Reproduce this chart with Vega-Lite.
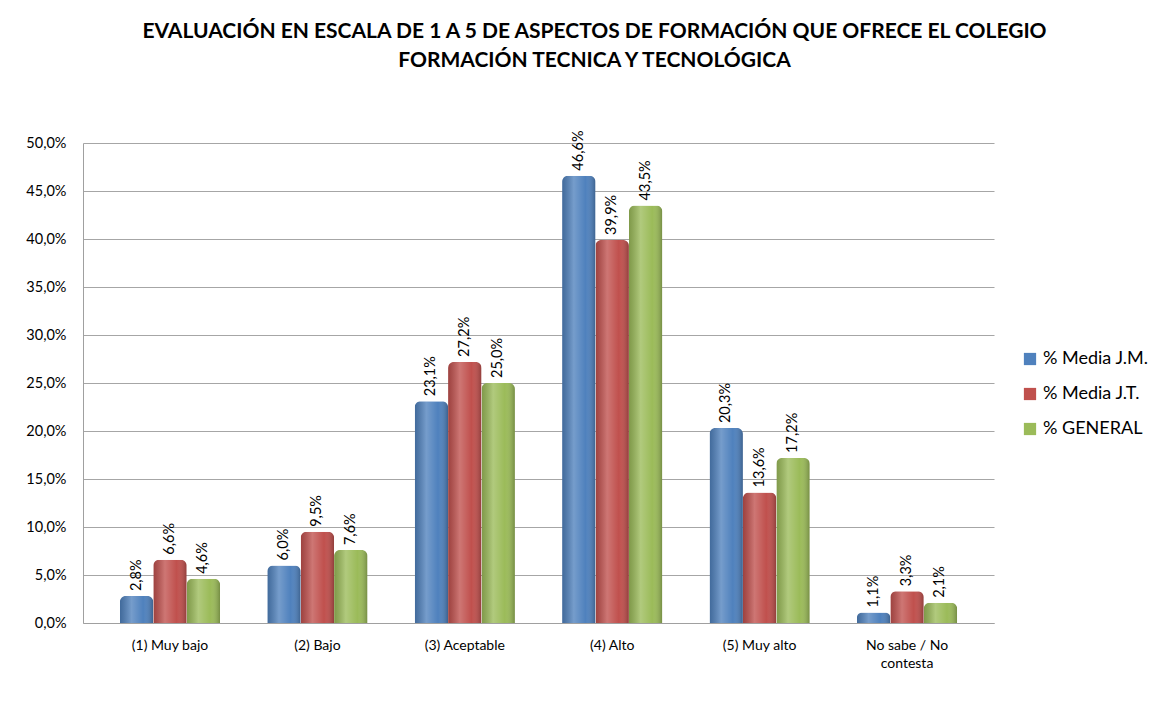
{
  "$schema": "https://vega.github.io/schema/vega-lite/v6.json",
  "width": 911,
  "height": 480,
  "autosize": {"type": "none"},
  "padding": {"left": 83, "top": 143, "right": 182, "bottom": 83},
  "background": "white",
  "config": {
    "locale": {"number": {"decimal": ",", "thousands": ".", "grouping": [3], "currency": ["", " €"]}},
    "font": "Lato",
    "view": {"stroke": null}
  },
  "title": {
    "text": ["EVALUACIÓN EN ESCALA DE  1 A 5 DE ASPECTOS DE FORMACIÓN  QUE OFRECE EL COLEGIO", "FORMACIÓN TECNICA Y TECNOLÓGICA"],
    "font": "Lato",
    "fontSize": 21,
    "fontWeight": "bold",
    "color": "#000000",
    "anchor": "middle",
    "dx": 56,
    "offset": 59,
    "lineHeight": 29
  },
  "data": {
    "values": [
      {"cat": "(1) Muy bajo", "serie": "% Media J.M.", "v": 0.028},
      {"cat": "(1) Muy bajo", "serie": "% Media J.T.", "v": 0.066},
      {"cat": "(1) Muy bajo", "serie": "% GENERAL", "v": 0.046},
      {"cat": "(2) Bajo", "serie": "% Media J.M.", "v": 0.060},
      {"cat": "(2) Bajo", "serie": "% Media J.T.", "v": 0.095},
      {"cat": "(2) Bajo", "serie": "% GENERAL", "v": 0.076},
      {"cat": "(3) Aceptable", "serie": "% Media J.M.", "v": 0.231},
      {"cat": "(3) Aceptable", "serie": "% Media J.T.", "v": 0.272},
      {"cat": "(3) Aceptable", "serie": "% GENERAL", "v": 0.250},
      {"cat": "(4) Alto", "serie": "% Media J.M.", "v": 0.466},
      {"cat": "(4) Alto", "serie": "% Media J.T.", "v": 0.399},
      {"cat": "(4) Alto", "serie": "% GENERAL", "v": 0.435},
      {"cat": "(5) Muy alto", "serie": "% Media J.M.", "v": 0.203},
      {"cat": "(5) Muy alto", "serie": "% Media J.T.", "v": 0.136},
      {"cat": "(5) Muy alto", "serie": "% GENERAL", "v": 0.172},
      {"cat": "No sabe / No contesta", "serie": "% Media J.M.", "v": 0.011},
      {"cat": "No sabe / No contesta", "serie": "% Media J.T.", "v": 0.033},
      {"cat": "No sabe / No contesta", "serie": "% GENERAL", "v": 0.021}
    ]
  },
  "encoding": {
    "x": {
      "field": "cat",
      "type": "nominal",
      "sort": null,
      "scale": {"paddingInner": 0.32, "paddingOuter": 0.25},
      "axis": {
        "title": null,
        "labelAngle": 0,
        "labelFontSize": 14,
        "labelColor": "#000000",
        "labelPadding": 15,
        "labelLineHeight": 18,
        "ticks": false,
        "domainColor": "#A0A0A0",
        "labelExpr": "datum.label == 'No sabe / No contesta' ? ['No sabe / No', 'contesta'] : datum.label"
      }
    },
    "xOffset": {"field": "serie", "type": "nominal", "sort": ["% Media J.M.", "% Media J.T.", "% GENERAL"]},
    "y": {
      "field": "v",
      "type": "quantitative",
      "scale": {"domain": [0, 0.5], "nice": false},
      "axis": {
        "title": null,
        "format": ".1%",
        "values": [0, 0.05, 0.1, 0.15, 0.2, 0.25, 0.3, 0.35, 0.4, 0.45, 0.5],
        "labelFontSize": 14.5,
        "labelColor": "#000000",
        "labelPadding": 17,
        "ticks": false,
        "domainColor": "#A0A0A0",
        "gridColor": "#A6A6A6",
        "gridWidth": 1.2
      }
    }
  },
  "layer": [
    {
      "mark": {"type": "bar", "cornerRadiusTopLeft": 6, "cornerRadiusTopRight": 6},
      "encoding": {
        "color": {
          "field": "serie",
          "type": "nominal",
          "sort": ["% Media J.M.", "% Media J.T.", "% GENERAL"],
          "scale": {"domain": ["% Media J.M.", "% Media J.T.", "% GENERAL"], "range": ["#4F81BD", "#C0504D", "#9BBB59"]},
          "legend": {
            "title": null,
            "orient": "none",
            "legendX": 938,
            "legendY": 207,
            "symbolType": "square",
            "symbolSize": 150,
            "labelFontSize": 18,
            "labelColor": "#000000",
            "rowPadding": 17,
            "labelFont": "Lato"
          }
        }
      }
    },
    {
      "mark": {
        "type": "bar",
        "cornerRadiusTopLeft": 6,
        "cornerRadiusTopRight": 6,
        "fill": {
          "gradient": "linear",
          "x1": 0, "x2": 1, "y1": 0, "y2": 0,
          "stops": [
            {"offset": 0, "color": "rgba(0,0,0,0.18)"},
            {"offset": 0.35, "color": "rgba(255,255,255,0.22)"},
            {"offset": 0.7, "color": "rgba(255,255,255,0.0)"},
            {"offset": 1, "color": "rgba(0,0,0,0.25)"}
          ]
        }
      },
      "encoding": {}
    },
    {
      "mark": {"type": "text", "angle": -90, "align": "left", "baseline": "middle", "dx": 5, "fontSize": 14.5, "color": "#000000"},
      "encoding": {
        "text": {"field": "v", "type": "quantitative", "format": ".1%"}
      }
    }
  ]
}
